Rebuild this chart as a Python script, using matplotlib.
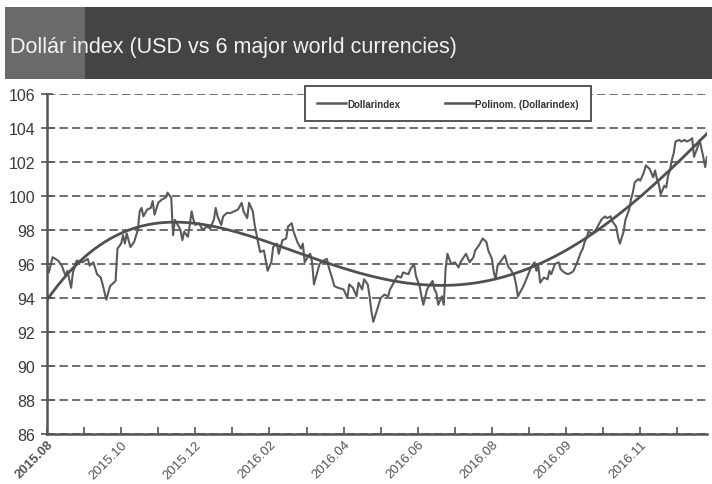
import numpy as np
import matplotlib
matplotlib.use("Agg")
import matplotlib.pyplot as plt
from matplotlib.patches import Rectangle
from matplotlib.lines import Line2D

plt.rcParams['font.family'] = ['Liberation Sans', 'DejaVu Sans']

# Trading-day index counted from the first session shown, and the index close
day = [0, 1, 3, 6, 8, 10, 11, 13, 14, 16, 19, 22, 23, 25, 27, 29, 30, 32, 34, 37,
       38, 40, 41, 42, 43, 45, 47, 49, 50, 51, 52, 54, 56, 57, 58, 60, 62, 64, 65, 67,
       68, 69, 70, 72, 73, 74, 76, 77, 78, 79, 80, 82, 84, 86, 88, 90, 91, 92, 94, 95,
       97, 99, 101, 103, 105, 106, 108, 109, 111, 112, 114, 115, 117, 119, 121, 122, 124, 125, 127, 129,
       130, 132, 133, 135, 137, 138, 139, 141, 142, 143, 144, 145, 147, 149, 151, 152, 154, 155, 157, 160,
       162, 163, 165, 167, 168, 170, 171, 173, 174, 175, 176, 178, 180, 182, 184, 185, 187, 189, 191, 192,
       195, 196, 198, 199, 201, 202, 203, 205, 206, 208, 209, 210, 211, 213, 214, 215, 216, 218, 220, 222,
       223, 226, 228, 230, 231, 233, 235, 237, 238, 240, 241, 242, 243, 245, 247, 248, 249, 250, 252, 253,
       254, 256, 257, 260, 261, 263, 264, 265, 266, 268, 270, 271, 272, 274, 276, 277, 279, 281, 283, 284,
       286, 288, 289, 290, 291, 292, 294, 295, 296, 297, 299, 301, 302, 304, 305, 307, 308, 309, 311, 312,
       314, 315, 316, 317, 319, 320, 322, 323, 325, 327, 328, 329, 330, 331, 333, 334, 335, 336, 337, 338,
       339, 341, 342, 344, 345, 347, 348, 349, 351, 352, 353, 354, 355, 356]
dxy = [95.9, 95.5, 96.4, 96.2, 95.9, 95.3, 95.6, 94.6, 95.5, 96.2, 96.1, 96.3, 95.9, 96.1, 95.4, 95.2, 94.8, 93.9, 94.7, 95.0,
       96.9, 97.2, 97.7, 97.2, 97.8, 97.0, 97.3, 98.0, 99.1, 99.3, 98.8, 99.2, 99.3, 99.7, 98.9, 99.6, 99.8, 99.9, 100.2, 99.9,
       97.7, 98.6, 98.4, 98.0, 97.4, 97.9, 97.6, 98.3, 99.1, 98.6, 98.3, 98.4, 98.0, 98.2, 98.1, 98.6, 99.3, 98.8, 98.3, 98.8,
       99.0, 99.0, 99.1, 99.2, 99.6, 99.1, 98.7, 99.6, 99.1, 98.3, 97.2, 96.7, 96.8, 95.6, 96.1, 97.0, 97.2, 96.6, 97.4, 97.5,
       98.2, 98.4, 97.9, 97.3, 96.9, 97.2, 96.1, 96.5, 96.6, 96.1, 94.8, 95.2, 96.0, 96.2, 96.3, 95.8, 95.1, 94.7, 94.6, 94.5,
       94.0, 94.8, 94.6, 94.1, 94.9, 94.5, 95.1, 94.8, 94.1, 93.2, 92.6, 93.3, 94.0, 94.2, 94.1, 94.5, 94.9, 95.3, 95.2, 95.5,
       95.4, 95.7, 96.0, 95.3, 94.7, 94.1, 93.6, 94.5, 94.7, 95.0, 94.5, 94.3, 93.6, 94.1, 93.6, 95.7, 96.6, 96.0, 96.1, 95.8,
       96.1, 96.6, 96.1, 96.4, 96.8, 97.1, 97.5, 97.3, 96.8, 96.3, 95.5, 95.1, 95.9, 96.2, 96.5, 96.1, 95.8, 95.7, 95.3, 94.8,
       94.1, 94.5, 94.7, 95.5, 95.8, 96.1, 95.6, 95.9, 94.9, 95.2, 95.1, 95.6, 95.4, 96.0, 96.1, 95.7, 95.5, 95.4, 95.5, 95.6,
       96.1, 96.7, 96.9, 97.3, 97.5, 97.9, 97.8, 97.9, 98.0, 98.2, 98.6, 98.8, 98.7, 98.8, 98.5, 98.2, 97.6, 97.2, 97.9, 98.6,
       99.2, 99.8, 100.2, 100.8, 101.0, 100.9, 101.4, 101.8, 101.6, 101.1, 101.5, 101.0, 100.7, 100.1, 100.6, 100.5, 101.2, 101.5, 102.1, 102.5,
       103.2, 103.3, 103.2, 103.3, 103.2, 103.3, 103.4, 102.3, 102.9, 103.3, 102.8, 102.3, 101.7, 102.3]

tick_labels = ['2015.08', '2015.10', '2015.12', '2016.02', '2016.04',
               '2016.06', '2016.08', '2016.09', '2016.11']
label_every = 40      # trading days between labelled ticks
tick_every = 20       # trading days between tick marks
last_day = 356
y_ticks = list(range(86, 107, 2))
trend_degree = 4

W, H = 712, 485
fig = plt.figure(figsize=(W / 100, H / 100), dpi=100)
fig.patch.set_facecolor('white')

# Title band with lighter lead-in box
fig.patches.append(Rectangle((5 / W, 1 - 80 / H), (W - 5) / W, 72 / H,
                             transform=fig.transFigure, facecolor='#444444',
                             edgecolor='none', zorder=0))
fig.patches.append(Rectangle((5 / W, 1 - 80 / H), 80 / W, 72 / H,
                             transform=fig.transFigure, facecolor='#6a6a6a',
                             edgecolor='none', zorder=1))
fig.text(10 / W, 1 - 47 / H, 'Dollár index (USD vs 6 major world currencies)',
         color='#f2f2f2', fontsize=15.5, va='center', ha='left', zorder=2)

ax = fig.add_axes([47 / W, 1 - 435 / H, 660 / W, 340 / H])
ax.set_xlim(0, last_day)
ax.set_ylim(86, 106)

line_col = '#5a5a5a'
ax.plot(day, dxy, color=line_col, lw=1.5, zorder=3)

# Polynomial trendline fitted to the series
t = np.asarray(day, dtype=float) / 100.0
coef = np.polyfit(t, dxy, trend_degree)
tt = np.linspace(0, last_day, 500)
ax.plot(tt, np.polyval(coef, tt / 100.0), color='#505050', lw=2.0, zorder=4)

ax.set_yticks(y_ticks)
ax.yaxis.grid(True, linestyle=(0, (5, 2.5)), color='#555555', lw=1.2)
ax.set_axisbelow(True)

xt = list(range(0, last_day, tick_every))
ax.set_xticks(xt)
labs = []
for v in xt:
    labs.append(tick_labels[v // label_every] if v % label_every == 0 else '')
ax.set_xticklabels(labs, rotation=45, ha='right', va='top', rotation_mode='anchor',
                   fontsize=9.5, color='#4a4a4a')
first = ax.get_xticklabels()[0]
first.set_color('#111111')
first.set_fontweight('bold')

ax.tick_params(axis='y', direction='inout', length=9, width=1.2, colors='#555555',
               labelsize=11.5, labelcolor='#3a3a3a', pad=4)
ax.tick_params(axis='x', direction='in', length=5, width=1.2, colors='#555555', pad=3)

for s in ('top', 'right'):
    ax.spines[s].set_visible(False)
for s in ('left', 'bottom'):
    ax.spines[s].set_color('#555555')
    ax.spines[s].set_linewidth(1.8)

handles = [Line2D([], [], color=line_col, lw=1.8),
           Line2D([], [], color='#505050', lw=1.8)]
leg = fig.legend(handles, ['Dollarindex', 'Polinom. (Dollarindex)'],
                 loc='center', bbox_to_anchor=(448 / W, 1 - 104.5 / H),
                 bbox_transform=fig.transFigure, ncol=2, fancybox=False,
                 framealpha=1, edgecolor='#555555', borderpad=1.25,
                 handlelength=3.0, handletextpad=0.1, columnspacing=4.6,
                 prop={'size': 7, 'weight': 'bold'})
leg.get_frame().set_linewidth(1.4)
for txt in leg.get_texts():
    txt.set_color('#333333')

fig.savefig('out.png', dpi=100)
